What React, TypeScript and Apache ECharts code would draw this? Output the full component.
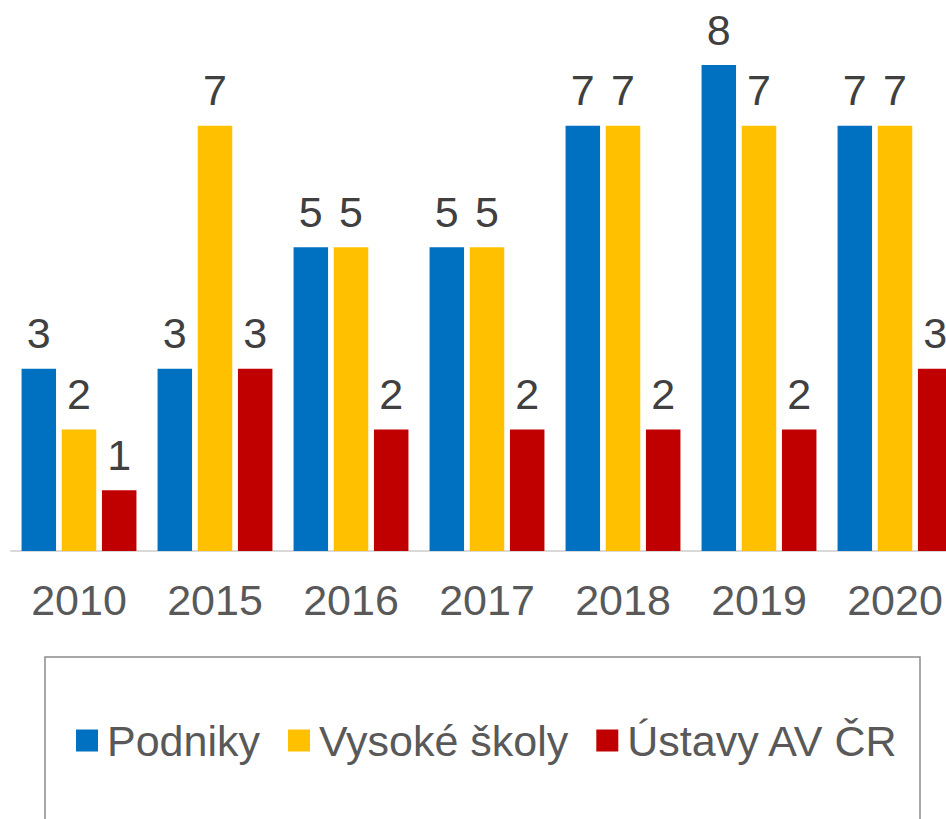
import React, { useEffect, useRef } from "react";
import * as echarts from "echarts";

const categories = ["2010", "2015", "2016", "2017", "2018", "2019", "2020"];
const podniky = [3, 3, 5, 5, 7, 8, 7];
const vysokeSkoly = [2, 7, 5, 5, 7, 7, 7];
const ustavy = [1, 3, 2, 2, 2, 2, 3];
const seriesNames = ["Podniky", "Vysoké školy", "Ústavy AV ČR"];
const colors = ["#0070C0", "#FFC000", "#C00000"];

const FONT = "'Liberation Sans', Arial, sans-serif";

export default function App() {
  const ref = useRef<HTMLDivElement>(null);
  useEffect(() => {
    if (!ref.current) return;
    const chart = echarts.init(ref.current, undefined, { renderer: "svg" });
    const data = [podniky, vysokeSkoly, ustavy];
    chart.setOption({
      animation: false,
      grid: { left: 11, right: 17, top: 65, bottom: 268, containLabel: false },
      xAxis: {
        type: "category",
        data: categories,
        axisLine: { show: true, lineStyle: { color: "#D9D9D9", width: 2 } },
        axisTick: { show: false },
        axisLabel: { color: "#595959", fontSize: 43, fontFamily: FONT, margin: 27 },
      },
      yAxis: {
        type: "value",
        min: 0,
        max: 8,
        show: false,
        splitLine: { show: false },
      },
      legend: {
        data: seriesNames,
        left: 76,
        top: 719,
        padding: 0,
        itemWidth: 22,
        itemHeight: 22,
        itemGap: 28,
        icon: "rect",
        textStyle: { color: "#595959", fontSize: 43, fontFamily: FONT, padding: [0, 0, 0, 4] },
      },
      graphic: [
        {
          type: "rect",
          shape: { x: 45, y: 657, width: 875, height: 200 },
          style: { fill: "none", stroke: "#8C8C8C", lineWidth: 1.5 },
          z: -1,
        },
      ],
      series: seriesNames.map((name, i) => ({
        name,
        type: "bar",
        data: data[i],
        barWidth: 34.5,
        barGap: "16.5%",
        itemStyle: { color: colors[i] },
        label: {
          show: true,
          position: "top",
          distance: 14,
          color: "#404040",
          fontSize: 43,
          fontFamily: FONT,
        },
      })),
    });
    return () => chart.dispose();
  }, []);
  return (
    <div
      style={{
        position: "fixed",
        left: 0,
        top: 0,
        width: 946,
        height: 819,
        overflow: "hidden",
        background: "#fff",
      }}
    >
      <div ref={ref} style={{ width: 980, height: 819 }} />
    </div>
  );
}
